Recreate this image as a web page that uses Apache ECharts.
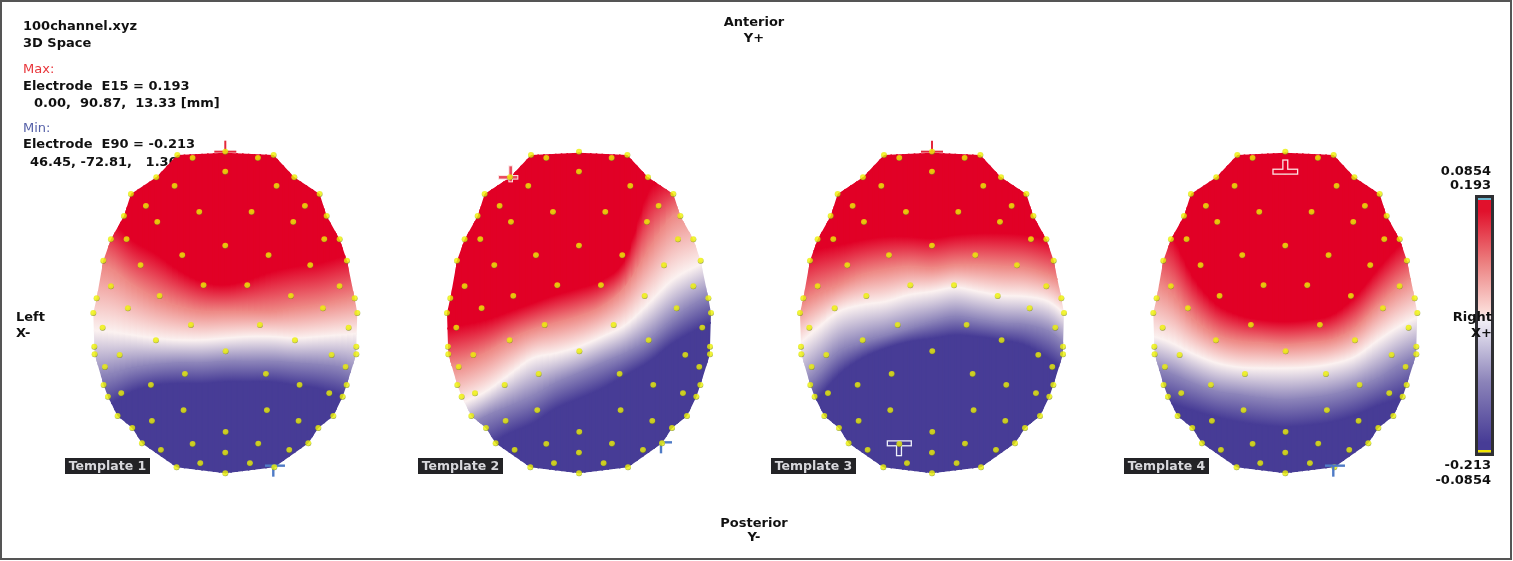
<!DOCTYPE html>
<html><head><meta charset="utf-8">
<style>html,body{margin:0;padding:0;background:#fff}#c{width:1513px;height:561px}</style>
<script src="https://cdn.jsdelivr.net/npm/echarts@6/dist/echarts.min.js"></script>
</head><body><div id="c"></div>
<script>
// ---- data (head units: x from midline, y from the top electrode) ----
const electrodeX = [-144,-98,0,98,145,-207,207,-152,154,0,-283,283,-238,239,-78,79,-304,304,-204,204,-343,-296,297,343,0,-129,130,-366,365,-254,255,-343,-65,66,343,-386,388,-197,197,-292,293,-396,396,-103,104,-368,370,-208,209,-393,393,-392,393,-317,319,1,-361,361,-121,122,-365,-223,223,364,-312,312,-352,352,-125,125,-323,-220,220,324,-279,279,1,-250,-98,99,249,-193,192,0,-146,-75,74,147,0];
const electrodeY = [10,19,0,19,10,77,77,103,103,60,127,127,163,163,181,181,193,193,211,211,263,263,263,263,282,311,311,327,327,341,341,404,401,401,404,440,440,433,433,470,470,484,484,520,520,528,528,566,566,585,585,608,608,610,610,599,646,646,667,667,700,700,700,700,725,725,735,735,776,776,793,808,808,793,829,829,841,875,877,876,875,895,895,903,947,935,935,947,965];
const outlineX = [0,-144,-207,-283,-304,-343,-366,-386,-396,-393,-392,-365,-352,-323,-279,-250,-146,0,147,249,279,324,352,364,393,393,396,388,365,343,304,283,207,145];
const outlineY = [3,10,77,127,193,263,327,440,484,585,608,700,735,793,829,875,947,965,947,875,829,793,735,700,608,585,484,440,327,263,193,127,77,10];
const columnX = [-420,-350,-280,-210,-140,-70,0,70,140,210,280,350,420];

const t1Red    = [130,195,265,305,355,390,400,385,360,345,335,315,300];
const t1Salmon = [340,350,400,440,465,480,480,480,480,470,460,445,430];
const t1White  = [535,540,550,560,565,565,560,555,555,560,555,550,545];
const t1Purple = [680,670,650,640,635,635,630,630,630,635,640,650,680];
const t1Blue   = [790,760,720,700,695,695,690,690,690,700,710,730,760];

const t2Red    = [535,520,505,480,455,430,410,385,320,115,75,50,30];
const t2Salmon = [645,635,605,565,535,515,495,465,405,295,195,165,115];
const t2White  = [795,755,720,670,620,605,585,555,520,455,385,345,315];
const t2Purple = [865,835,795,765,735,695,665,635,605,565,505,455,425];
const t2Blue   = [965,925,885,845,815,770,740,710,670,630,575,535,505];

const t3Red    = [320,295,280,265,255,255,260,250,245,245,250,265,280];
const t3Salmon = [470,430,400,370,355,345,350,340,340,345,350,370,400];
const t3White  = [590,535,480,460,450,430,420,408,420,432,435,450,500];
const t3Purple = [730,670,600,570,550,530,510,495,505,515,520,540,590];
const t3Blue   = [830,750,670,620,590,570,560,550,555,565,580,620,670];

const t4Red    = [195,235,370,455,490,505,510,505,490,435,350,275,235];
const t4Salmon = [380,420,500,550,570,575,580,575,565,530,460,400,360];
const t4White  = [550,570,605,633,647,650,650,647,637,615,565,520,490];
const t4Purple = [645,665,695,720,730,740,745,740,730,710,680,635,605];
const t4Blue   = [745,755,775,795,810,820,825,820,810,790,760,735,695];

const templateFields = [
  [t1Red,t1Salmon,t1White,t1Purple,t1Blue],
  [t2Red,t2Salmon,t2White,t2Purple,t2Blue],
  [t3Red,t3Salmon,t3White,t3Purple,t3Blue],
  [t4Red,t4Salmon,t4White,t4Purple,t4Blue]
];
const fieldColors = ['#e10026','#ee8a86','#fbf1f0','#8b83b9','#473c96'];

// x, y, left, right, up, down arm lengths, kind
const t1Markers = [[0,0,33,33,33,0,'maxThin'],[144,942,25,35,0,33,'minThin']];
const t2Markers = [[-205,77,35,20,33,12,'maxEdge'],[246,872,3,33,0,33,'minThin']];
const t3Markers = [[0,0,33,33,33,0,'maxThin'],[-99,875,33,35,0,35,'minBox']];
const t4Markers = [[0,60,35,35,33,0,'maxBox'],[144,942,25,35,0,33,'minThin']];
const templateMarkers = [t1Markers,t2Markers,t3Markers,t4Markers];
const templateNames = ['Template 1','Template 2','Template 3','Template 4'];

const scaleValues = [0.193,0.172,0.09,0.012,-0.004,-0.1,-0.196,-0.213];
const scaleColors = ['#e1112c','#e1112c','#ec8080','#fbdcd8','#efecf5','#8b83b9','#473c96','#473c96'];
const scaleLabels = ['0.0854','0.193','-0.213','-0.0854'];

// ---- layout ----
const headCenters = [225.3,579,932,1285.3];
const headTop = 151.67, PX = 3;
const labelLefts = [65,418,771,1124];
const FONT = 'bold 13px "DejaVu Sans"';

function cr(a,b,c,d,t){
  return 0.5*((2*b)+(-a+c)*t+(2*a-5*b+4*c-d)*t*t+(-a+3*b-3*c+d)*t*t*t);
}
function fieldRender(fields){
  const n = columnX.length;
  return function(params,api){
    const i = params.dataIndex;
    const outline = outlineX.map((x,k)=>api.coord([x,outlineY[k]]));
    const children = [];
    if(i<n-1){
      const SUB = 4;
      const at = (k,t)=>{
        const f = fields[k];
        const y = cr(f[Math.max(i-1,0)],f[i],f[i+1],f[Math.min(i+2,n-1)],t);
        return api.coord([columnX[i]+(columnX[i+1]-columnX[i])*t,y]);
      };
      for(let s=0;s<SUB;s++){
        const t0=s/SUB,t1=(s+1)/SUB;
        const xa=columnX[i]+(columnX[i+1]-columnX[i])*t0, xb=columnX[i]+(columnX[i+1]-columnX[i])*t1;
        const top0=api.coord([xa,-200]),top1=api.coord([xb,-200]);
        const bot0=api.coord([xa,1300]),bot1=api.coord([xb,1300]);
        const a0=at(0,t0),a1=at(0,t1),z0=at(fields.length-1,t0),z1=at(fields.length-1,t1);
        children.push({type:'polygon',shape:{points:[top0,top1,a1,a0]},style:{fill:fieldColors[0],stroke:fieldColors[0],lineWidth:1.5}});
        children.push({type:'polygon',shape:{points:[z0,z1,bot1,bot0]},style:{fill:fieldColors[4],stroke:fieldColors[4],lineWidth:1.5}});
        for(let k=0;k<fields.length-1;k++){
          const p0=at(k,t0),p1=at(k,t1),q0=at(k+1,t0),q1=at(k+1,t1);
          const m1=[(p0[0]+p1[0])/2,(p0[1]+p1[1])/2], m2=[(q0[0]+q1[0])/2,(q0[1]+q1[1])/2];
          const dx=(p1[0]-p0[0])+(q1[0]-q0[0]), dy=(p1[1]-p0[1])+(q1[1]-q0[1]);
          const len=Math.hypot(dx,dy)||1;
          const nx=-dy/len, ny=dx/len;
          const proj=(m2[0]-m1[0])*nx+(m2[1]-m1[1])*ny;
          const g={type:'linear',global:true,x:m1[0],y:m1[1],x2:m1[0]+nx*proj,y2:m1[1]+ny*proj,
            colorStops:[{offset:0,color:fieldColors[k]},{offset:1,color:fieldColors[k+1]}]};
          children.push({type:'polygon',shape:{points:[p0,p1,q1,q0]},style:{fill:g,stroke:g,lineWidth:1.5}});
        }
      }
    }
    return {type:'group',children,clipPath:{type:'polygon',shape:{points:outline}}};
  };
}
const markerStyles = {
  maxThin:{fill:'#e3283c',t:1,border:0},
  minThin:{fill:'#4f7bc6',t:1.2,border:0},
  maxEdge:{fill:'#ea4a5c',t:1.3,border:1,edge:'#fbe3e3'},
  maxBox:{fill:'#e10026',t:1.8,border:1.3,edge:'#fbe3e3'},
  minBox:{fill:'#473c96',t:1.8,border:1.3,edge:'#eef0fa'}
};
function markerRender(params,api){
  const x=api.value(0),y=api.value(1),L=api.value(2),R=api.value(3),U=api.value(4),D=api.value(5);
  const st=markerStyles[api.value(6)];
  const c=api.coord([x,y]);
  const h=[c[0]-L/PX,c[1]-st.t,(L+R)/PX,2*st.t], v=[c[0]-st.t,c[1]-U/PX,2*st.t,(U+D)/PX];
  const rect=(r,g,fill)=>({type:'rect',shape:{x:r[0]-g,y:r[1]-g,width:r[2]+2*g,height:r[3]+2*g},style:{fill}});
  const kids=[];
  if(st.border){kids.push(rect(h,st.border,st.edge),rect(v,st.border,st.edge));}
  kids.push(rect(h,0,st.fill),rect(v,0,st.fill));
  return {type:'group',children:kids};
}

const grids=[],xAxes=[],yAxes=[],series=[];
headCenters.forEach((cx,h)=>{
  grids.push({left:cx-156,width:312,top:headTop-20,height:360});
  xAxes.push({type:'value',gridIndex:h,min:-468,max:468,show:false});
  yAxes.push({type:'value',gridIndex:h,min:-60,max:1020,inverse:true,show:false});
  const fields=templateFields[h];
  series.push({type:'custom',name:templateNames[h],xAxisIndex:h,yAxisIndex:h,clip:false,silent:true,z:2,
    data:columnX.map((x,i)=>[x,fields[2][i]]),renderItem:fieldRender(fields)});
  series.push({type:'scatter',xAxisIndex:h,yAxisIndex:h,silent:true,z:3,symbolSize:6,
    data:electrodeX.map((x,i)=>[x,electrodeY[i]]),
    itemStyle:{color:{type:'radial',x:0.45,y:0.36,r:0.66,colorStops:[{offset:0,color:'#f8f800'},{offset:0.7,color:'#e2ea08'},{offset:1,color:'#6f7a18'}]}}});
  series.push({type:'custom',xAxisIndex:h,yAxisIndex:h,clip:false,silent:true,z:h===3?4:2.5,
    data:templateMarkers[h],renderItem:markerRender,encode:{x:0,y:1},
    dimensions:['x','y','l','r','u','d',{name:'k',type:'ordinal'}]});
});
// colour scale
grids.push({left:1478,width:13,top:198,height:255});
xAxes.push({type:'category',gridIndex:4,data:['scale'],show:false});
yAxes.push({type:'value',gridIndex:4,min:-0.213,max:0.193,show:false});
series.push({type:'custom',xAxisIndex:4,yAxisIndex:4,clip:false,silent:true,z:2,
  data:[[0,scaleValues[0],scaleValues[scaleValues.length-1]]],
  renderItem(params,api){
    const top=api.coord([0,api.value(1)]),bot=api.coord([0,api.value(2)]);
    const span=bot[1]-top[1];
    const stops=scaleValues.map((v,i)=>({offset:(api.coord([0,v])[1]-top[1])/span,color:scaleColors[i]}));
    return {type:'group',children:[
      {type:'rect',shape:{x:1475,y:top[1]-3,width:19,height:span+6},style:{fill:'#2f2f33'}},
      {type:'rect',shape:{x:1478,y:top[1],width:13,height:span},style:{fill:{type:'linear',x:0,y:0,x2:0,y2:1,colorStops:stops}}},
      {type:'rect',shape:{x:1478,y:top[1],width:13,height:2},style:{fill:'#6db7cf'}},
      {type:'rect',shape:{x:1478,y:bot[1]-3,width:13,height:2.5},style:{fill:'#f2e600'}}
    ]};
  }});

function txt(text,x,y,o){
  o=o||{};
  return {type:'text',z:o.z||0,silent:true,style:{text,x,y:y+1,font:o.font||FONT,fill:o.fill||'#111',
    textAlign:o.align||'left',textVerticalAlign:'middle'}};
}
const graphics=[
  {type:'rect',z:0,silent:true,shape:{x:1,y:1,width:1510,height:558},style:{fill:'none',stroke:'#555',lineWidth:2}},
  txt('100channel.xyz',23,26),txt('3D Space',23,43),
  txt('Max:',23,69,{fill:'#e8353a',font:'13px "DejaVu Sans"'}),
  txt('Electrode  E15 = 0.193',23,86),
  txt('0.00,  90.87,  13.33 [mm]',34,103),
  txt('Min:',23,128,{fill:'#5560a8',font:'13px "DejaVu Sans"'}),
  txt('Electrode  E90 = -0.213',23,144),
  txt('46.45, -72.81,   1.30 [mm]',30,162),
  txt('Anterior',754,22,{align:'center'}),txt('Y+',754,38,{align:'center'}),
  txt('Posterior',754,523,{align:'center'}),txt('Y-',754,537,{align:'center'}),
  txt('Left',16,317),txt('X-',16,333),
  txt('Right',1492,317,{align:'right',z:10}),txt('X+',1492,333,{align:'right',z:10}),
  txt(scaleLabels[0],1491,171,{align:'right'}),txt(scaleLabels[1],1491,185,{align:'right'}),
  txt(scaleLabels[2],1491,465,{align:'right'}),txt(scaleLabels[3],1491,480,{align:'right'})
];
labelLefts.forEach((x,i)=>{
  graphics.push({type:'rect',z:5,silent:true,shape:{x,y:458,width:85,height:16},style:{fill:'#232326'}});
  graphics.push(txt(templateNames[i],x+42.5,465.5,{z:6,align:'center',fill:'#d8d8dc',font:'bold 12.5px "DejaVu Sans"'}));
});

const chart=echarts.init(document.getElementById('c'),null,{renderer:'canvas'});
chart.setOption({animation:false,backgroundColor:'#fff',tooltip:{show:false},
  grid:grids,xAxis:xAxes,yAxis:yAxes,series,graphic:{elements:graphics}});
</script></body></html>
